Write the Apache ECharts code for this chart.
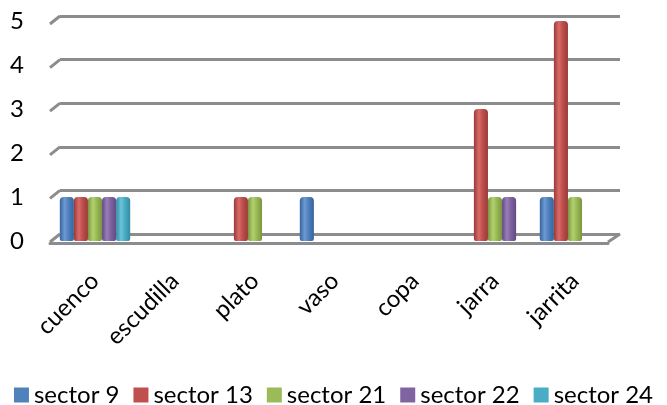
<!DOCTYPE html>
<html>
<head>
<meta charset="utf-8">
<script src="https://cdn.jsdelivr.net/npm/echarts@6/dist/echarts.min.js"></script>
<style>
  html, body { margin: 0; padding: 0; background: #fff; }
  #chart { width: 667px; height: 405px; }
</style>
</head>
<body>
<div id="chart"></div>
<script>
// Vessel types per category
const categories = ['cuenco', 'escudilla', 'plato', 'vaso', 'copa', 'jarra', 'jarrita'];

// Counts per sector
const sector9  = [1, 0, 0, 1, 0, 0, 1];
const sector13 = [1, 0, 1, 0, 0, 3, 5];
const sector21 = [1, 0, 1, 0, 0, 1, 1];
const sector22 = [1, 0, 0, 0, 0, 1, 0];
const sector24 = [1, 0, 0, 0, 0, 0, 0];

const yTicks = [0, 1, 2, 3, 4, 5];

const seriesDefs = [
  { name: 'sector 9',  data: sector9,  base: '#4F81BD', light: '#6E9AD2', dark: '#36649B' },
  { name: 'sector 13', data: sector13, base: '#C0504D', light: '#D96A67', dark: '#983A38' },
  { name: 'sector 21', data: sector21, base: '#9BBB59', light: '#B3D06F', dark: '#79963E' },
  { name: 'sector 22', data: sector22, base: '#8064A2', light: '#9A7EBC', dark: '#624A83' },
  { name: 'sector 24', data: sector24, base: '#4BACC6', light: '#6CC4DB', dark: '#338BA3' }
];

const FONT = 'Lato, "Liberation Sans", sans-serif';
const FS = 24;

function cylinder(d) {
  return {
    type: 'linear', x: 0, y: 0, x2: 1, y2: 0,
    colorStops: [
      { offset: 0, color: d.dark },
      { offset: 0.35, color: d.light },
      { offset: 0.6, color: d.base },
      { offset: 1, color: d.dark }
    ]
  };
}

const chart = echarts.init(document.getElementById('chart'), null, { renderer: 'canvas' });

const option = {
  backgroundColor: '#ffffff',
  animation: false,
  textStyle: { fontFamily: FONT },
  legend: {
    top: 383,
    left: 'center',
    icon: 'rect',
    itemWidth: 15,
    itemHeight: 15,
    itemGap: 14,
    padding: 0,
    itemStyle: { borderWidth: 0, borderRadius: 0 },
    textStyle: { fontSize: FS, color: '#000', fontFamily: FONT },
    data: seriesDefs.map(d => ({ name: d.name, itemStyle: { color: d.base, borderWidth: 0, borderRadius: 0 } }))
  },
  grid: [
    // front plane: bars, value labels and category labels
    { left: 55, right: 52, top: 21, bottom: 164 },
    // back wall: gridlines
    { left: 60, right: 47, top: 16, bottom: 171 },
    // floor front edge
    { left: 50, right: 59, top: 24, bottom: 162 }
  ],
  xAxis: [
    {
      gridIndex: 0, type: 'category', data: categories,
      axisLine: { show: false }, axisTick: { show: false },
      axisLabel: { rotate: 45, fontSize: FS, color: '#000', margin: 36, fontFamily: FONT, interval: 0 }
    },
    { gridIndex: 1, type: 'category', data: categories, show: false },
    {
      gridIndex: 2, type: 'category', data: categories,
      axisLine: { show: true, lineStyle: { color: '#8c8c8c', width: 3 } },
      axisTick: { show: false }, axisLabel: { show: false }
    }
  ],
  yAxis: [
    {
      gridIndex: 0, type: 'value', min: 0, max: 5, interval: 1,
      axisLine: { show: false }, axisTick: { show: false }, splitLine: { show: false },
      axisLabel: { fontSize: FS, color: '#000', margin: 31, fontFamily: FONT, padding: [7, 0, 0, 0] }
    },
    {
      gridIndex: 1, type: 'value', min: 0, max: 5, interval: 1,
      axisLine: { show: false }, axisTick: { show: false }, axisLabel: { show: false },
      splitLine: { show: true, lineStyle: { color: '#8c8c8c', width: 3 } }
    },
    {
      gridIndex: 2, type: 'value', min: 0, max: 5, interval: 1, show: false
    }
  ],
  series: seriesDefs.map(d => ({
    name: d.name,
    type: 'bar',
    xAxisIndex: 0, yAxisIndex: 0,
    data: d.data,
    barGap: '0%',
    barCategoryGap: '12%',
    itemStyle: { color: cylinder(d), borderRadius: [4, 4, 2, 2] },
    emphasis: { disabled: true }
  }))
};

chart.setOption(option);

// slanted stubs joining the back gridlines to the front edge, plus the floor's right edge
const stubs = [];
yTicks.forEach(v => {
  const back = chart.convertToPixel({ xAxisIndex: 1, yAxisIndex: 1 }, [0, v]);
  const gLeft = 60;
  stubs.push({
    type: 'line',
    shape: { x1: gLeft - 10, y1: back[1] + 8, x2: gLeft, y2: back[1] },
    style: { stroke: '#8c8c8c', lineWidth: 3 }
  });
});
const floorBack = chart.convertToPixel({ xAxisIndex: 1, yAxisIndex: 1 }, [0, 0]);
stubs.push({
  type: 'line',
  shape: { x1: 667 - 59, y1: floorBack[1] + 8, x2: 667 - 47, y2: floorBack[1] },
  style: { stroke: '#8c8c8c', lineWidth: 3 }
});
chart.setOption({ graphic: stubs });
</script>
</body>
</html>
